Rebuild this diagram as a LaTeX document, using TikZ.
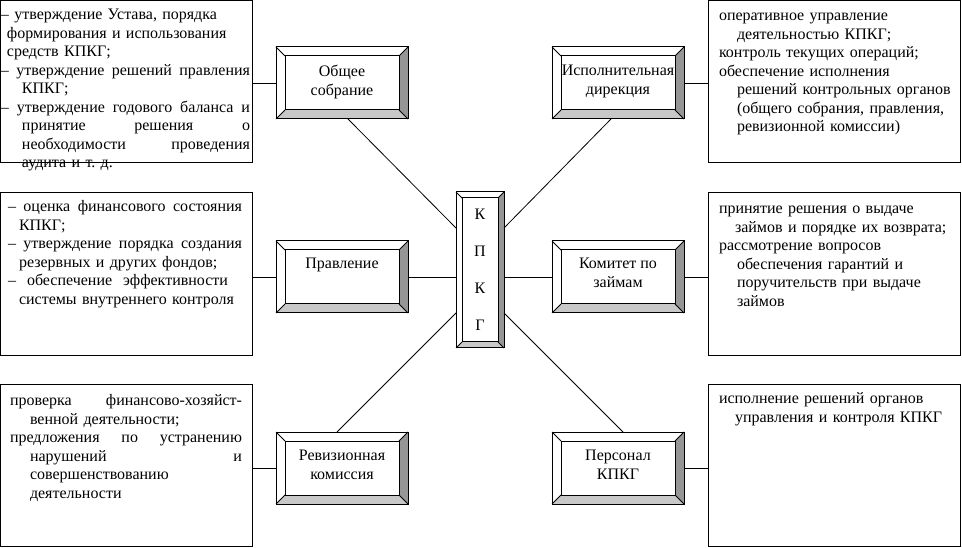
\documentclass[tikz,border=0pt]{standalone}
\usepackage{fontspec}
\setmainfont{Liberation Serif}
\usetikzlibrary{calc}
\definecolor{bevR}{RGB}{150,150,150}
\definecolor{bevB}{RGB}{200,200,200}
\newcommand\fl{\rule{0pt}{11pt}}
\newcommand\jl[3]{\hspace*{#1}\makebox[#2][l]{#3}}
\newcommand\bevelbox[5]{%
  \node[#2] (#1) at (#4,#5) {};
  \fill[bevR] (#1.north east) -- (#1.south east) -- ($(#1.south east)+(-#3,-#3)$) -- ($(#1.north east)+(-#3,#3)$) -- cycle;
  \fill[bevB] (#1.south west) -- (#1.south east) -- ($(#1.south east)+(-#3,-#3)$) -- ($(#1.south west)+(#3,-#3)$) -- cycle;
  \draw[bevline] ($(#1.north west)+(#3,#3)$) rectangle ($(#1.south east)+(-#3,-#3)$);
  \draw[bevline] (#1.north west) -- ++(#3,#3);
  \draw[bevline] (#1.north east) -- ++(-#3,#3);
  \draw[bevline] (#1.south west) -- ++(#3,-#3);
  \draw[bevline] (#1.south east) -- ++(-#3,-#3);
  \draw[bevline] (#1.north west) rectangle (#1.south east);
}
\tikzset{
  tbox/.style={draw, line width=0.75pt, inner sep=0pt, outer sep=0pt, minimum width=189pt, minimum height=121.875pt},
  bevout/.style={fill=white, inner sep=0pt, outer sep=0pt, minimum width=99pt, minimum height=54pt},
  kout/.style={fill=white, inner sep=0pt, outer sep=0pt, minimum width=36pt, minimum height=117pt},
  bevline/.style={line width=0.75pt, black},
  conn/.style={line width=0.6pt, black},
  txt/.style={anchor=north west, inner sep=0pt, outer sep=0pt, align=left, font=\fontsize{12pt}{13.875pt}\selectfont},
  lbl/.style={anchor=north, inner sep=0pt, outer sep=0pt, align=center, font=\fontsize{12pt}{13.875pt}\selectfont},
}
\begin{document}
\begin{tikzpicture}[x=0.75pt, y=-0.75pt]
\useasboundingbox (0,0) rectangle (962,548);
% text boxes
\node[tbox] (L1) at (126.5,81.75) {};
\node[tbox] (L2) at (126.5,274) {};
\node[tbox] (L3) at (126.5,465.5) {};
\node[tbox] (R1) at (834,81.75) {};
\node[tbox] (R2) at (834,274) {};
\node[tbox] (R3) at (834,465.5) {};
% bevel boxes
\bevelbox{gs}{bevout}{9}{342}{83}
\bevelbox{pr}{bevout}{9}{342}{277}
\bevelbox{rk}{bevout}{9}{342}{468}
\bevelbox{id}{bevout}{9}{618}{83}
\bevelbox{km}{bevout}{9}{618}{277}
\bevelbox{ps}{bevout}{9}{618}{468}
\bevelbox{kpkg}{kout}{6}{480}{270}
% labels
\node[lbl] (gs-t) at ($(gs.north)+(0,15.3)$) {\fl Общее\\собрание};
\node[lbl] (pr-t) at ($(pr.north)+(0,13.3)$) {\fl Правление};
\node[lbl] (rk-t) at ($(rk.north)+(0,14.3)$) {\fl Ревизионная\\комиссия};
\node[lbl] (id-t) at ($(id.north)+(0,14.3)$) {\fl Исполнительная\\дирекция};
\node[lbl] (km-t) at ($(km.north)+(0,13.3)$) {\fl Комитет по\\займам};
\node[lbl] (ps-t) at ($(ps.north)+(0,14.3)$) {\fl Персонал\\КПКГ};
\node[lbl, font=\fontsize{12pt}{27.75pt}\selectfont] (kpkg-t) at (480,205.3) {\fl К\\П\\К\\Г};
% connectors
\draw[conn] (gs.west) -- (gs.west -| L1.east);
\draw[conn] (pr.west) -- (pr.west -| L2.east);
\draw[conn] (rk.west) -- (rk.west -| L3.east);
\draw[conn] (id.east) -- (id.east -| R1.west);
\draw[conn] (km.east) -- (km.east -| R2.west);
\draw[conn] (ps.east) -- (ps.east -| R3.west);
\draw[conn] (pr.east) -- (pr.east -| kpkg.west);
\draw[conn] (km.west) -- (km.west -| kpkg.east);
\draw[conn] ($(gs.south)+(6,0)$) -- ($(kpkg.west)+(0,-42)$);
\draw[conn] ($(id.south)+(-7,0)$) -- ($(kpkg.east)+(0,-42)$);
\draw[conn] ($(rk.north)+(-5,0)$) -- ($(kpkg.west)+(0,43)$);
\draw[conn] ($(ps.north)+(5,0)$) -- ($(kpkg.east)+(0,43)$);
% texts
\node[txt, text width=186.75pt] (L1-t) at (1,5.3) {\fl – утверждение Устава, порядка\\
\hspace*{4.5pt}формирования и использования\\
\hspace*{4.5pt}средств КПКГ;\\
\jl{0pt}{186.75pt}{– \hfill утверждение \hfill решений \hfill правления}\\
\hspace*{15.75pt}КПКГ;\\
\jl{0pt}{186.75pt}{– \hfill утверждение \hfill годового \hfill баланса \hfill и}\\
\jl{15.75pt}{171pt}{принятие \hfill решения \hfill о}\\
\jl{15.75pt}{171pt}{необходимости \hfill проведения}\\
\hspace*{15.75pt}аудита и т.~д.};
\node[txt, text width=175.5pt] (L2-t) at (8,197.3) {\fl\jl{0pt}{175.5pt}{– \hfill оценка \hfill финансового \hfill состояния}\\
\hspace*{8.25pt}КПКГ;\\
\jl{0pt}{175.5pt}{– \hfill утверждение \hfill порядка \hfill создания}\\
\hspace*{8.25pt}резервных и других фондов;\\
\jl{0pt}{165pt}{– \hfill обеспечение \hfill эффективности}\\
\hspace*{8.25pt}системы внутреннего контроля};
\node[txt, text width=174pt] (L3-t) at (10,391.3) {\fl\jl{0pt}{174pt}{проверка \hfill финансово-хозяйст-}\\
\hspace*{15pt}венной деятельности;\\
\jl{0pt}{174pt}{предложения \hfill по \hfill устранению}\\
\jl{15pt}{159pt}{нарушений \hfill и}\\
\hspace*{15pt}совершенствованию\\
\hspace*{15pt}деятельности};
\node[txt, text width=180pt] (R1-t) at (719,6.3) {\fl оперативное управление\\
\hspace*{13.5pt}деятельностью КПКГ;\\
контроль текущих операций;\\
обеспечение исполнения\\
\hspace*{13.5pt}решений контрольных органов\\
\hspace*{13.5pt}(общего собрания, правления,\\
\hspace*{13.5pt}ревизионной комиссии)};
\node[txt, text width=180pt] (R2-t) at (719,199.3) {\fl принятие решения о выдаче\\
\hspace*{12pt}займов и порядке их возврата;\\
рассмотрение вопросов\\
\hspace*{13.5pt}обеспечения гарантий и\\
\hspace*{13.5pt}поручительств при выдаче\\
\hspace*{13.5pt}займов};
\node[txt, text width=180pt] (R3-t) at (719,389.3) {\fl исполнение решений органов\\
\hspace*{12pt}управления и контроля КПКГ};
\end{tikzpicture}
\end{document}
